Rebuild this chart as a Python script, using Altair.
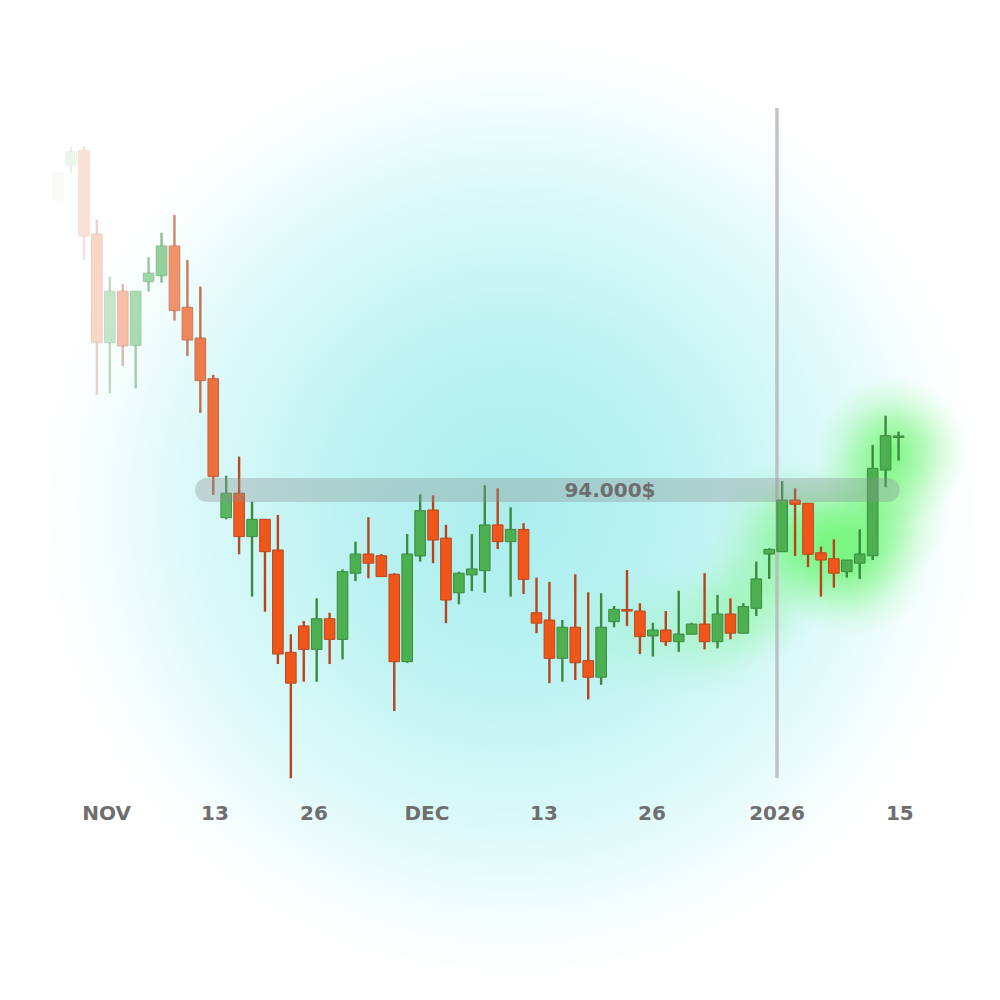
import altair as alt
import pandas as pd

# ---- candle data (daily OHLC, USD) ----
opens = [107630, 109275, 109950, 106030, 100920, 103340, 100800, 103790, 104070, 105470,
         102590, 101140, 99230, 92700, 93850, 91810, 92620, 91180, 86370, 87610,
         86510, 87950, 86980, 90090, 90990, 90910, 90040, 85930, 90900, 93060,
         91740, 89170, 90010, 90210, 92360, 91570, 92150, 88230, 87890, 86090,
         87550, 85980, 85200, 87810, 88380, 88310, 87140, 87420, 86870, 87220,
         87700, 86870, 88170, 87270, 88440, 90990, 91100, 93530, 93380, 91050,
         90770, 90160, 90560, 90910, 94940, 96470]
closes = [108900, 109900, 105940, 100920, 103340, 100770, 103340, 104190, 105470, 102430,
          101050, 99140, 94630, 93850, 91810, 92620, 91100, 86290, 84920, 86510,
          87950, 86980, 90160, 90990, 90560, 89930, 85930, 90990, 93030, 91650,
          88830, 90090, 90290, 92360, 91570, 92150, 89800, 87740, 86090, 87550,
          85880, 85200, 87550, 88390, 88310, 87110, 87420, 86870, 87230, 87700,
          86870, 88170, 87270, 88520, 89820, 91210, 93530, 93330, 90980, 90710,
          90090, 90710, 90990, 95020, 96550, 96540]
highs = [108900, 110140, 110140, 106720, 104030, 103680, 103350, 104940, 106090, 106930,
         104810, 103560, 99410, 94670, 95570, 93450, 92640, 92830, 87220, 87840,
         88910, 88230, 90270, 91570, 92720, 90990, 90090, 91930, 93800, 93750,
         92360, 90160, 91930, 94220, 94080, 93190, 92440, 89880, 89680, 87890,
         90040, 89190, 89150, 88550, 90240, 88680, 87760, 88310, 89270, 87760,
         90090, 89070, 88910, 88680, 90630, 91260, 94420, 94080, 93380, 91340,
         91680, 90710, 92150, 96120, 97490, 96740]
lows = [107630, 108890, 104810, 98470, 98550, 99830, 98780, 103320, 103740, 101960,
        100300, 97620, 93770, 92620, 90980, 88990, 88280, 85820, 80450, 84990,
        84990, 85820, 86040, 89720, 89850, 89930, 83610, 85880, 90630, 90560,
        87740, 88630, 89250, 89170, 91230, 88990, 89110, 87270, 84920, 84990,
        85070, 84160, 84840, 87550, 87610, 86290, 86170, 86670, 86390, 87220,
        86510, 86560, 86980, 87270, 88080, 89820, 91100, 90900, 90370, 88990,
        89410, 89880, 89820, 90710, 94130, 95380]

# ---- axis tick labels (positions in candle-index units) ----
tick_pos = [3.75, 12.13, 19.79, 28.53, 37.58, 45.93, 55.6, 65.1]
tick_text = ["NOV", "13", "26", "DEC", "13", "26", "2026", "15"]

# ---- reference level & year marker ----
level_price = 94000
level_text = "94.000$"
level_from, level_to = 10.59, 65.1
year_pos = 55.6
year_line_top, year_line_bottom = 111950, 80460

n = len(opens)
df = pd.DataFrame({"i": list(range(n)), "open": opens, "close": closes,
                   "high": highs, "low": lows})

W, H = 984, 976
X_DOM = [-3.875, 72.23]
PX_X = W / (X_DOM[1] - X_DOM[0])        # pixels per index
PX_Y = 1 / 47.0                          # pixels per dollar
Y_DOM = [116654 - H / PX_Y, 116654]

xs = alt.Scale(domain=X_DOM, nice=False, zero=False, padding=0)
ys = alt.Scale(domain=Y_DOM, nice=False, zero=False, padding=0)

GREEN, RED = "#4caf50", "#f0561a"
GREEN_D, RED_D = "#3b8a3f", "#b9441c"
FONT = "DejaVu Sans"
TXT = "#6e6e6e"

# background radial glow
bg = alt.Chart(alt.Data(values=[{}])).mark_rect(
    fill=alt.Gradient(gradient="radial",
                      stops=[alt.GradientStop(offset=0, color="#aaeded"),
                             alt.GradientStop(offset=0.35, color="#bcf2f2"),
                             alt.GradientStop(offset=0.68, color="#dcf9f9"),
                             alt.GradientStop(offset=0.88, color="#f4fdfd"),
                             alt.GradientStop(offset=1, color="#ffffff")],
                      x1=0.5, y1=0.5, r1=0, x2=0.5, y2=0.5, r2=0.5)
).encode(x=alt.value(34), x2=alt.value(974), y=alt.value(30), y2=alt.value(970))

# green glow decorations: (index, price, radius px, alpha)
glows = [(44, 87300, 70, 0.08), (48, 87200, 70, 0.12), (51.5, 87600, 70, 0.2),
         (54, 89200, 70, 0.3), (56.5, 92000, 75, 0.4), (59, 91300, 75, 0.45),
         (61.5, 90600, 75, 0.55), (63, 92800, 75, 0.55), (64.5, 95800, 75, 0.7)]
glow_layers = []
for gi, gp, gr, ga in glows:
    gdf = pd.DataFrame({"x0": [gi - gr / PX_X], "x1": [gi + gr / PX_X],
                        "y0": [gp - gr / PX_Y], "y1": [gp + gr / PX_Y]})
    glow_layers.append(alt.Chart(gdf).mark_rect(
        fill=alt.Gradient(gradient="radial",
                          stops=[alt.GradientStop(offset=0, color=f"rgba(80,245,80,{ga})"),
                                 alt.GradientStop(offset=0.4, color=f"rgba(80,245,80,{ga*0.6:.3f})"),
                                 alt.GradientStop(offset=0.7, color=f"rgba(80,245,80,{ga*0.22:.3f})"),
                                 alt.GradientStop(offset=1, color="rgba(80,245,80,0)")],
                          x1=0.5, y1=0.5, r1=0, x2=0.5, y2=0.5, r2=0.5)
    ).encode(x=alt.X("x0:Q", scale=xs, axis=None), x2="x1:Q",
             y=alt.Y("y0:Q", scale=ys, axis=None), y2="y1:Q"))

year_line = alt.Chart(pd.DataFrame({"x": [year_pos], "y": [year_line_top], "y2": [year_line_bottom]})
                      ).mark_rule(color="#b8b8b8", strokeWidth=3.5, opacity=0.85).encode(
    x=alt.X("x:Q", scale=xs, axis=None), y=alt.Y("y:Q", scale=ys, axis=None), y2="y2:Q")

base = alt.Chart(df).transform_calculate(
    top="max(datum.open, datum.close)",
    bot="min(datum.open, datum.close)",
    dir="datum.close >= datum.open ? 'up' : 'down'",
    op=f"min(1, max(0.04, ({-X_DOM[0]*PX_X + 8} + {PX_X}*datum.i - 50) / 195))",
)
fill_c = alt.Color("dir:N", scale=alt.Scale(domain=["up", "down"], range=[GREEN, RED]), legend=None)
dark_c = alt.Stroke("dir:N", scale=alt.Scale(domain=["up", "down"], range=[GREEN_D, RED_D]), legend=None)
opac = alt.Opacity("op:Q", scale=None, legend=None)

wick_hi = base.mark_rule(strokeWidth=2.4).encode(
    x=alt.X("i:Q", scale=xs, axis=None), y=alt.Y("high:Q", scale=ys, axis=None), y2="top:Q",
    stroke=dark_c, opacity=opac)
wick_lo = base.mark_rule(strokeWidth=2.4).encode(
    x=alt.X("i:Q", scale=xs, axis=None), y=alt.Y("bot:Q", scale=ys, axis=None), y2="low:Q",
    stroke=dark_c, opacity=opac)
body = base.mark_bar(width=10.6, strokeWidth=1).encode(
    x=alt.X("i:Q", scale=xs, axis=None), y=alt.Y("top:Q", scale=ys, axis=None), y2="bot:Q",
    fill=fill_c, stroke=dark_c, opacity=opac)

band_df = pd.DataFrame({"x": [level_from], "x2": [level_to],
                        "y": [level_price + 12 / PX_Y], "y2": [level_price - 12 / PX_Y]})
band = alt.Chart(band_df).mark_rect(cornerRadius=12, color="#8a9393", opacity=0.36).encode(
    x=alt.X("x:Q", scale=xs, axis=None), x2="x2:Q",
    y=alt.Y("y:Q", scale=ys, axis=None), y2="y2:Q")

band_label = alt.Chart(pd.DataFrame({"x": [42.68], "y": [level_price], "t": [level_text]})
                       ).mark_text(font=FONT, fontWeight="bold", fontSize=20, color=TXT,
                                   baseline="middle", align="center", dy=1).encode(
    x=alt.X("x:Q", scale=xs, axis=None), y=alt.Y("y:Q", scale=ys, axis=None), text="t:N")

ticks = alt.Chart(pd.DataFrame({"x": tick_pos, "t": tick_text})).mark_text(
    font=FONT, fontWeight="bold", fontSize=20, color=TXT, baseline="middle", align="center"
).encode(x=alt.X("x:Q", scale=xs, axis=None), y=alt.value(806), text="t:N")

chart = alt.layer(bg, *glow_layers, year_line, wick_hi, wick_lo, body, band, band_label, ticks
                  ).properties(width=W, height=H, padding=0,
                               autosize=alt.AutoSizeParams(type="none")
                  ).configure_view(stroke=None)

chart.save("out.html", embed_options={"renderer": "svg", "actions": False})
